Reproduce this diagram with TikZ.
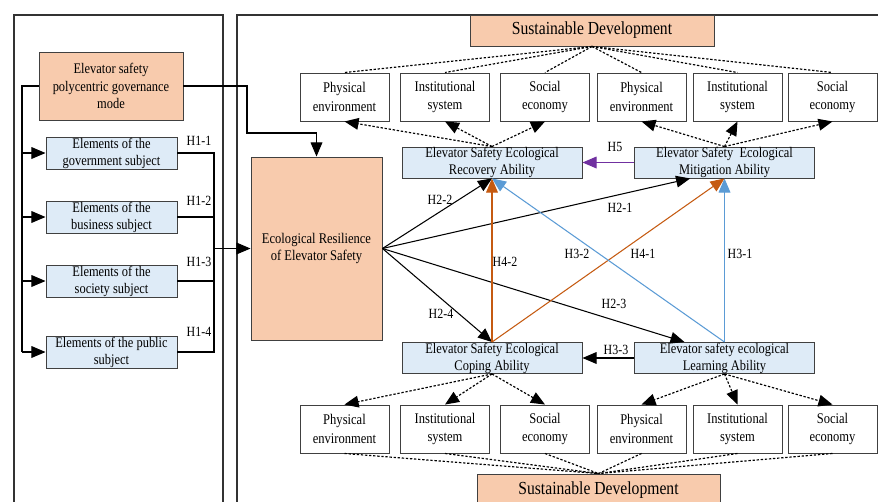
\documentclass[tikz,border=0pt]{standalone}
\usepackage{fontspec}
\setmainfont{Liberation Serif}[FakeStretch=0.85]
\usetikzlibrary{arrows.meta}

\definecolor{peach}{HTML}{F8CBAD}
\definecolor{paleblue}{HTML}{DEEBF7}
\definecolor{rustarr}{HTML}{C55A11}
\definecolor{skyarr}{HTML}{5B9BD5}
\definecolor{purparr}{HTML}{7030A0}

\tikzset{
    frame/.style={draw=black!80, line width=1pt},
    peachbox/.style={draw=black!75, line width=0.8pt, fill=peach, align=center, inner sep=0pt, font=\fontsize{12.6}{15}\selectfont},
    subjbox/.style={draw=black!75, line width=0.8pt, fill=paleblue, align=center, inner sep=0pt, minimum width=3.93cm, minimum height=0.96cm, font=\fontsize{12.5}{14.5}\selectfont},
    ablbox/.style={draw=black!75, line width=0.8pt, fill=paleblue, align=center, inner sep=0pt, minimum width=5.4cm, minimum height=0.93cm, font=\fontsize{12.5}{14.5}\selectfont},
    dimbox/.style={draw=black!75, line width=0.8pt, fill=white, align=center, inner sep=0pt, minimum width=2.67cm, minimum height=1.44cm, font=\fontsize{12.6}{16}\selectfont},
    hlabel/.style={font=\fontsize{12}{13}\selectfont, inner sep=1pt},
    arr/.style={line width=0.9pt, -{Triangle[length=12pt,width=10pt]}},
    dot/.style={line width=1pt, dash pattern=on 2pt off 1.5pt},
    dotarr/.style={dot, -{Triangle[length=12pt,width=10pt]}}
}

\begin{document}
\begin{tikzpicture}[x=0.03cm, y=-0.03cm]
    \useasboundingbox (0,0) rectangle (878,501);
    \clip (0,0) rectangle (878,501);

    % two frames
    \draw[frame] (14,520) -- (14,15) -- (223,15) -- (223,520);
    \draw[frame] (237,520) -- (237,15) -- (890,15);

    % left part: governance mode and its subjects
    \node[peachbox, font=\fontsize{12.5}{15}\selectfont, minimum width=4.32cm, minimum height=2.04cm] (gov) at (111,86) {Elevator safety\\polycentric governance\\mode};
    \node[subjbox] (govsub) at (111.5,153) {Elements of the\\government subject};
    \node[subjbox] (bussub) at (111.5,217) {Elements of the\\business subject};
    \node[subjbox] (socsub) at (111.5,281) {Elements of the\\society subject};
    \node[subjbox] (pubsub) at (111.5,352) {Elements of the public\\subject};

    \node[hlabel] (h11) at (199,141) {H1-1};
    \node[hlabel] (h12) at (199,201) {H1-2};
    \node[hlabel] (h13) at (199,262) {H1-3};
    \node[hlabel] (h14) at (199,332) {H1-4};

    % resilience
    \node[peachbox, minimum width=3.93cm, minimum height=5.49cm] (res) at (316.5,248.5) {Ecological Resilience\\of Elevator Safety};

    % left bus
    \coordinate (lbus) at (22,86);
    \draw[line width=0.9pt] (gov.west) -- (lbus) -- (lbus |- pubsub.west);
    \draw[arr] (lbus |- govsub.west) -- (govsub.west);
    \draw[arr] (lbus |- bussub.west) -- (bussub.west);
    \draw[arr] (lbus |- socsub.west) -- (socsub.west);
    \draw[arr] (lbus |- pubsub.west) -- (pubsub.west);

    % right bus
    \coordinate (rbus) at (214,248.5);
    \draw[line width=0.9pt] (govsub.east) -| (rbus);
    \draw[line width=0.9pt] (bussub.east) -- (bussub.east -| rbus);
    \draw[line width=0.9pt] (socsub.east) -- (socsub.east -| rbus);
    \draw[line width=0.9pt] (pubsub.east) -| (rbus);
    \draw[arr] (rbus) -- (res.west);

    \coordinate (gbend) at (247,133);
    \draw[arr] (gov.east) -| (gbend) -| (res.north);

    % sustainable development
    \node[peachbox, font=\fontsize{15.7}{17}\selectfont, minimum width=7.32cm, minimum height=0.93cm] (sdtop) at (592,30.5) {Sustainable Development};
    \node[peachbox, font=\fontsize{15.7}{17}\selectfont, minimum width=7.29cm, minimum height=0.99cm] (sdbot) at (598.5,490.5) {Sustainable Development};

    % top dimensions
    \node[dimbox] (phyA) at (344.5,97) {Physical\\environment};
    \node[dimbox] (insA) at (445,97) {Institutional\\system};
    \node[dimbox] (socA) at (545,97) {Social\\economy};
    \node[dimbox] (phyB) at (641.5,97) {Physical\\environment};
    \node[dimbox] (insB) at (737.5,97) {Institutional\\system};
    \node[dimbox] (socB) at (832.5,97) {Social\\economy};

    % bottom dimensions
    \node[dimbox] (phyC) at (344.5,429) {Physical\\environment};
    \node[dimbox] (insC) at (445,429) {Institutional\\system};
    \node[dimbox] (socC) at (545,429) {Social\\economy};
    \node[dimbox] (phyD) at (641.5,429) {Physical\\environment};
    \node[dimbox] (insD) at (737.5,429) {Institutional\\system};
    \node[dimbox] (socD) at (832.5,429) {Social\\economy};

    % abilities
    \node[ablbox] (recov) at (492,162.5) {Elevator Safety Ecological\\Recovery Ability};
    \node[ablbox] (mitig) at (724.5,162.5) {Elevator Safety~ Ecological\\Mitigation Ability};
    \node[ablbox] (coping) at (492,358) {Elevator Safety Ecological\\Coping Ability};
    \node[ablbox] (learn) at (724.5,358) {Elevator safety ecological\\Learning Ability};

    % dotted links
    \foreach \d in {phyA,insA,socA,phyB,insB,socB}
        \draw[dot] (sdtop.south) -- (\d.north);
    \foreach \d in {phyC,insC,socC,phyD,insD,socD}
        \draw[dot] (\d.south) -- (sdbot.north);
    \foreach \d in {phyA,insA,socA}
        \draw[dotarr] (recov.north) -- (\d.south);
    \foreach \d in {phyB,insB,socB}
        \draw[dotarr] (mitig.north) -- (\d.south);
    \foreach \d in {phyC,insC,socC}
        \draw[dotarr] (coping.south) -- (\d.north);
    \foreach \d in {phyD,insD,socD}
        \draw[dotarr] (learn.south) -- (\d.north);

    % hypotheses
    \draw[arr] (res.east) -- (recov.south);
    \draw[arr] (res.east) -- ([xshift=-1.03cm]mitig.south);
    \draw[arr] (res.east) -- ([xshift=-1.2cm]learn.north);
    \draw[arr] (res.east) -- (coping.north);
    \draw[arr, rustarr] (coping.north) -- (recov.south);
    \draw[arr, rustarr] (coping.north) -- (mitig.south);
    \draw[arr, skyarr] (learn.north) -- (recov.south);
    \draw[arr, skyarr] (learn.north) -- (mitig.south);
    \draw[arr] (learn.west) -- (coping.east);
    \draw[arr, purparr] (mitig.west) -- (recov.east);

    \node[hlabel] (h22) at (440,200) {H2-2};
    \node[hlabel] (h21) at (620,208) {H2-1};
    \node[hlabel] (h42) at (505,262) {H4-2};
    \node[hlabel] (h32) at (577,254) {H3-2};
    \node[hlabel] (h41) at (643,254) {H4-1};
    \node[hlabel] (h31) at (740,254) {H3-1};
    \node[hlabel] (h24) at (441,314) {H2-4};
    \node[hlabel] (h23) at (614,304) {H2-3};
    \node[hlabel] (h5) at (615,147) {H5};
    \node[hlabel] (h33) at (616,350) {H3-3};

\end{tikzpicture}
\end{document}
